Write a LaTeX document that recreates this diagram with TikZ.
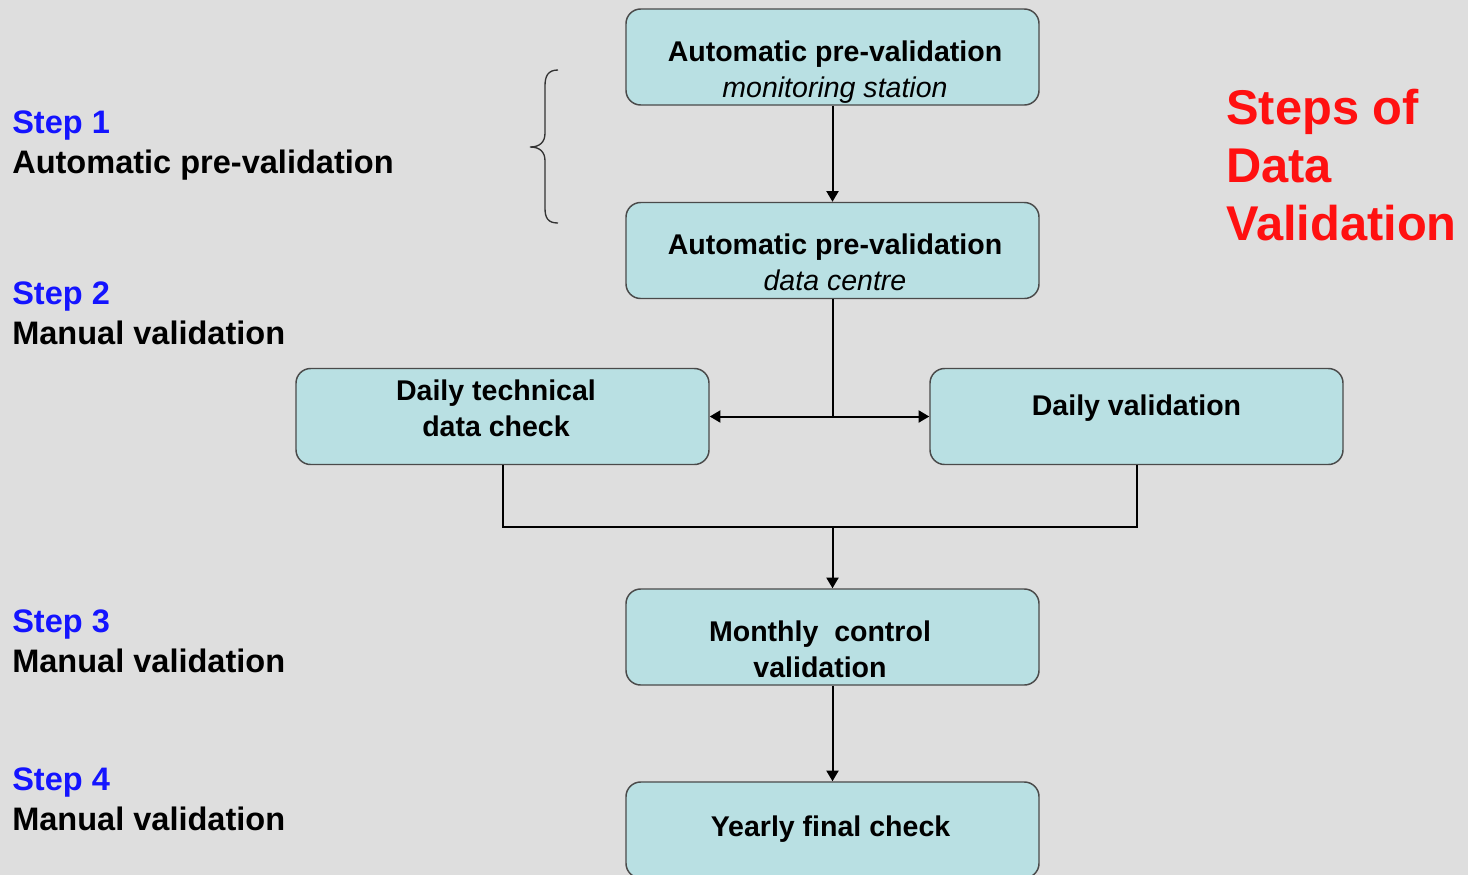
\documentclass[tikz,border=0pt]{standalone}
\usepackage{fontspec}
\setmainfont{Liberation Sans}
\usetikzlibrary{arrows.meta,calc}
\definecolor{bgcol}{HTML}{DEDEDE}
\definecolor{boxfill}{HTML}{B9E0E3}
\definecolor{boxline}{HTML}{4A4A4A}
\definecolor{stepblue}{HTML}{1414FF}
\definecolor{titlered}{HTML}{FF1010}
\tikzset{
  x=0.75pt, y=-0.75pt,
  flowbox/.style={draw=boxline, line width=1.1pt, fill=boxfill, rounded corners=11pt,
    minimum width=309.75pt, minimum height=72pt, inner sep=0pt},
  % base anchor of a multi-line node sits on its last line
  boxtext/.style={anchor=base, align=center, inner sep=0pt,
    font=\fontsize{21.4}{26.5}\selectfont\bfseries},
  steptext/.style={anchor=base west, align=left, inner sep=0pt,
    font=\fontsize{24.4}{30}\selectfont\bfseries},
  titletext/.style={anchor=base west, align=left, inner sep=0pt, text=titlered,
    font=\fontsize{36.6}{43.5}\selectfont\bfseries},
  flow/.style={line width=1.5pt, draw=black},
  flowarrow/.style={flow, -{Triangle[length=8pt,width=9pt]}},
}
\begin{document}
\begin{tikzpicture}
\useasboundingbox (0,0) rectangle (1468,875);
\clip (0,0) rectangle (1468,875);
\fill[bgcol] (0,0) rectangle (1468,875);

% process boxes
\node[flowbox] (b1) at (832.5,57) {};
\node[flowbox] (b2) at (832.5,250.5) {};
\node[flowbox] (b3) at (502.5,416.5) {};
\node[flowbox] (b4) at (1136.5,416.5) {};
\node[flowbox] (b5) at (832.5,637) {};
\node[flowbox] (b6) at (832.5,830) {};

% box labels
\node[boxtext] (t1) at (835,97) {Automatic pre-validation\\\mdseries\itshape monitoring station};
\node[boxtext] (t2) at (835,290) {Automatic pre-validation\\\mdseries\itshape data centre};
\node[boxtext] (t3) at (496,436) {Daily technical\\data check};
\node[boxtext] (t4) at (1136.5,415) {Daily validation};
\node[boxtext] (t5) at (820,677) {Monthly\ \ control\\validation};
\node[boxtext] (t6) at (830.5,836) {Yearly final check};

% connectors
\coordinate (split) at (832.5,416.5);
\coordinate (merge) at (832.5,527);
\draw[flowarrow] (b1.south) -- (b2.north);
\draw[flow] (b2.south) -- (split);
\draw[flowarrow] (split) -- (b3.east);
\draw[flowarrow] (split) -- (b4.west);
\draw[flow] (b3.south) |- (merge) -| (b4.south);
\draw[flowarrow] (merge) -- (b5.north);
\draw[flowarrow] (b5.south) -- (b6.north);

% step descriptions
\node[steptext] (s1) at (12,173) {\textcolor{stepblue}{Step 1}\\Automatic pre-validation};
\node[steptext] (s2) at (12,344) {\textcolor{stepblue}{Step 2}\\Manual validation};
\node[steptext] (s3) at (12,672) {\textcolor{stepblue}{Step 3}\\Manual validation};
\node[steptext] (s4) at (12,830) {\textcolor{stepblue}{Step 4}\\Manual validation};

% brace grouping the automatic stage
\draw[line width=1pt, draw=black!80]
  (558,70) .. controls (548,70) and (545,76) .. (545,86)
  -- (545,133) .. controls (545,142) and (540,147) .. (530,147)
  .. controls (540,147) and (545,152) .. (545,161)
  -- (545,208) .. controls (545,218) and (548,223) .. (558,223);

% title
\node[titletext] (title) at (1226,240) {Steps of\\Data\\Validation};
\end{tikzpicture}
\end{document}
